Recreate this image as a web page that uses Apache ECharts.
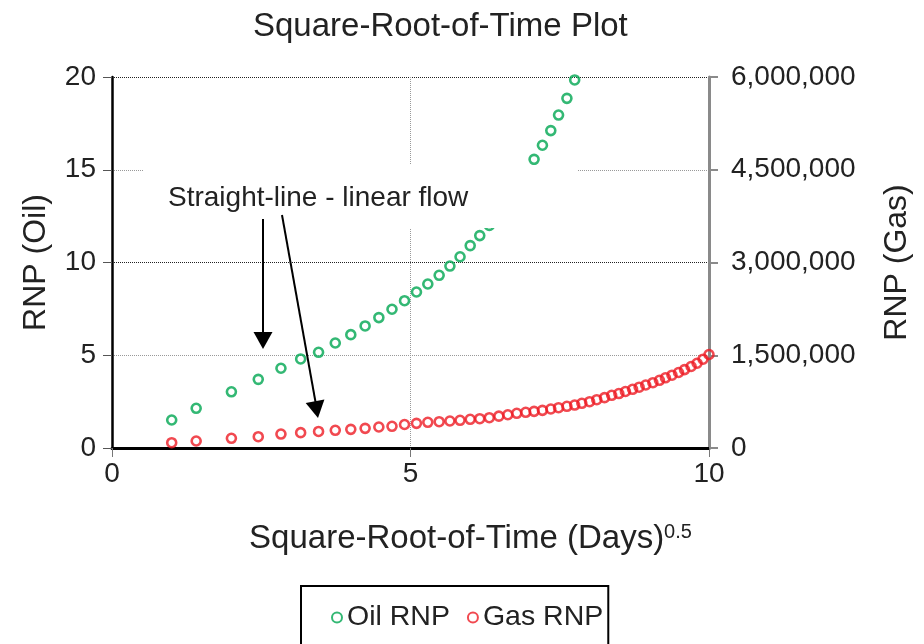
<!DOCTYPE html>
<html><head><meta charset="utf-8">
<script src="https://cdn.jsdelivr.net/npm/echarts@6.0.0/dist/echarts.min.js"></script>
<style>html,body{margin:0;padding:0;background:#fff}#c{width:924px;height:644px}</style>
</head><body><div id="c"></div>
<script>
// Tick values
const xTicks = [0, 5, 10];
const oilTicks = [0, 5, 10, 15, 20];
const gasTicks = [0, 1500000, 3000000, 4500000, 6000000];

// Oil RNP (square-root-of-time, RNP)
const oilX = [1, 1.41, 2, 2.45, 2.83, 3.16, 3.46, 3.74, 4, 4.24, 4.47, 4.69, 4.9, 5.1, 5.29, 5.48, 5.66, 5.83, 6, 6.16, 6.32,
              7.07, 7.21, 7.35, 7.48, 7.62, 7.75];
const oilRNP = [1.51, 2.14, 3.03, 3.70, 4.30, 4.80, 5.16, 5.66, 6.11, 6.58, 7.03, 7.48, 7.94, 8.41, 8.84, 9.31, 9.81, 10.31, 10.91, 11.45, 12.0,
                15.56, 16.32, 17.11, 17.95, 18.85, 19.84];

// Gas RNP
const gasX = [1, 1.41, 2, 2.45, 2.83, 3.16, 3.46, 3.74, 4, 4.24, 4.47, 4.69, 4.9, 5.1, 5.29, 5.48, 5.66, 5.83, 6, 6.16,
              6.32, 6.48, 6.63, 6.78, 6.93, 7.07, 7.21, 7.35, 7.48, 7.62, 7.75, 7.87, 8, 8.12, 8.25, 8.37, 8.49, 8.6, 8.72, 8.83,
              8.94, 9.06, 9.17, 9.27, 9.38, 9.49, 9.59, 9.7, 9.8, 9.9, 10];
const gasRNP = [86000, 113000, 157000, 183000, 226000, 248000, 268000, 286000, 302000, 318000, 340000, 351000, 380000, 399000, 416000, 425000, 437000, 448000, 464000, 474000,
                490000, 515000, 538000, 561000, 577000, 593000, 609000, 631000, 652000, 674000, 695000, 723000, 749000, 781000, 814000, 852000, 881000, 914000, 949000, 983000,
                1019000, 1056000, 1095000, 1135000, 1177000, 1221000, 1268000, 1318000, 1371000, 1436000, 1512000];

const FONT = "'Liberation Sans', Arial, Helvetica, sans-serif";
const TXT = '#222';
const GREEN = '#00A651';
const RED = '#ED1C24';

const chart = echarts.init(document.getElementById('c'), null, {renderer: 'canvas'});
const option = {
  animation: false,
  title: {
    text: 'Square-Root-of-Time Plot', left: 248, top: 5,
    textStyle: {fontFamily: FONT, fontSize: 33, fontWeight: 'normal', color: TXT}
  },
  grid: {left: 112, right: 215, top: 77, bottom: 196},
  legend: {
    left: 301, top: 586, orient: 'horizontal',
    borderColor: '#000', borderWidth: 2,
    padding: [17, 5, 30, 30],
    itemWidth: 10, itemHeight: 10, itemGap: 17,
    textStyle: {fontFamily: FONT, fontSize: 28.5, color: TXT},
    data: ['Oil RNP', 'Gas RNP']
  },
  xAxis: {
    type: 'value', min: xTicks[0], max: xTicks[xTicks.length - 1], interval: xTicks[1] - xTicks[0],
    axisLine: {show: true, onZero: false, lineStyle: {color: '#000', width: 3}},
    axisTick: {show: true, length: 9, lineStyle: {color: '#777', width: 1}},
    axisLabel: {margin: 12, fontSize: 28, color: TXT, fontFamily: FONT},
    splitLine: {show: true, lineStyle: {color: ['transparent', '#999', 'transparent'], type: 'dotted', width: 1}},
    name: '{a|Square-Root-of-Time (Days)}{b|0.5}', nameLocation: 'middle', nameGap: 74,
    nameTextStyle: {
      padding: [0, 0, 0, 120],
      rich: {
        a: {fontSize: 33, fontFamily: FONT, color: TXT},
        b: {fontSize: 20, fontFamily: FONT, color: TXT, verticalAlign: 'top'}
      }
    }
  },
  yAxis: [
    {
      type: 'value', position: 'left', min: oilTicks[0], max: oilTicks[oilTicks.length - 1], interval: oilTicks[1] - oilTicks[0],
      axisLine: {show: true, lineStyle: {color: '#000', width: 2.5}},
      axisTick: {show: true, length: 9, lineStyle: {color: '#555', width: 1}},
      axisLabel: {margin: 16, fontSize: 28, color: TXT, fontFamily: FONT},
      splitLine: {show: true, lineStyle: {color: ['transparent', '#999', '#222', '#999', '#222'], type: 'dotted', width: 1}},
      name: 'RNP (Oil)', nameLocation: 'middle', nameRotate: 90, nameGap: 60,
      nameTextStyle: {fontSize: 32, fontFamily: FONT, color: TXT}
    },
    {
      type: 'value', position: 'right', min: gasTicks[0], max: gasTicks[gasTicks.length - 1], interval: gasTicks[1] - gasTicks[0],
      axisLine: {show: true, lineStyle: {color: '#8a8a8a', width: 3}},
      axisTick: {show: true, length: 9, lineStyle: {color: '#8a8a8a', width: 2}},
      axisLabel: {margin: 22, fontSize: 28, color: TXT, fontFamily: FONT,
                  formatter: v => Number(v).toLocaleString('en-US')},
      splitLine: {show: false},
      name: 'RNP (Gas)', nameLocation: 'middle', nameRotate: 90, nameGap: 172,
      nameTextStyle: {fontSize: 32, fontFamily: FONT, color: TXT}
    }
  ],
  series: [
    {
      name: 'Oil RNP', type: 'scatter', yAxisIndex: 0, silent: true,
      data: oilX.map((x, i) => [x, oilRNP[i]]),
      symbol: 'circle', symbolSize: 9,
      itemStyle: {color: 'rgba(255,255,255,0)', borderColor: GREEN, borderWidth: 2.6}
    },
    {
      name: 'Gas RNP', type: 'scatter', yAxisIndex: 1, silent: true,
      data: gasX.map((x, i) => [x, gasRNP[i]]),
      symbol: 'circle', symbolSize: 9,
      itemStyle: {color: 'rgba(255,255,255,0)', borderColor: RED, borderWidth: 2.6}
    }
  ],
  graphic: [
    {type: 'rect', z: 100, shape: {x: 143, y: 165, width: 434, height: 63}, style: {fill: '#fff'}},
    {type: 'text', z: 101, x: 168, y: 198,
     style: {text: 'Straight-line - linear flow', fontSize: 28, fontFamily: FONT, fill: TXT, verticalAlign: 'middle'}},
    {type: 'line', z: 101, shape: {x1: 263, y1: 219, x2: 263, y2: 334}, style: {stroke: '#000', lineWidth: 2}},
    {type: 'polygon', z: 101, shape: {points: [[263, 349], [253.5, 332], [272.5, 332]]}, style: {fill: '#000'}},
    {type: 'line', z: 101, shape: {x1: 282, y1: 215, x2: 315.5, y2: 402}, style: {stroke: '#000', lineWidth: 2}},
    {type: 'polygon', z: 101, shape: {points: [[318, 418], [324.4, 399.6], [305.7, 403.0]]}, style: {fill: '#000'}}
  ]
};
chart.setOption(option);
</script>
</body></html>
